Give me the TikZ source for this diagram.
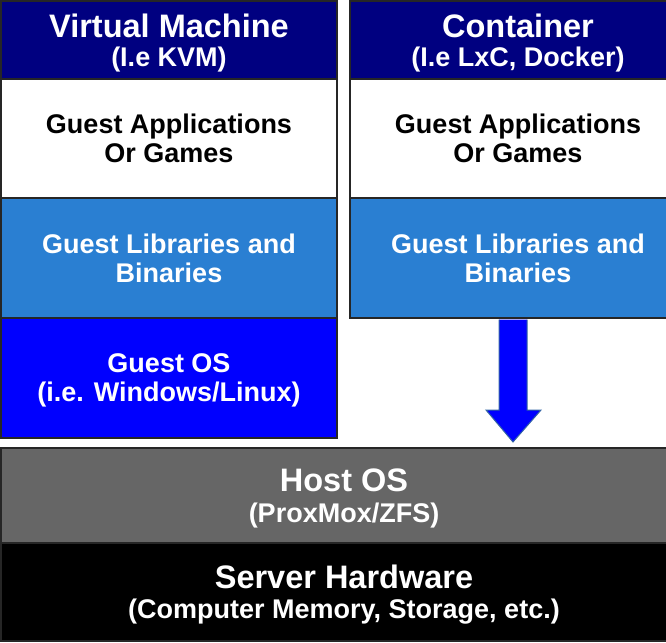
\documentclass[tikz,border=0pt]{standalone}
\usepackage{fontspec}
\setmainfont{Liberation Sans}
\usetikzlibrary{positioning}
\definecolor{headblue}{HTML}{000080}
\definecolor{libblue}{HTML}{2A7FD2}
\definecolor{osblue}{HTML}{0000FF}
\definecolor{hostgray}{HTML}{666666}
\definecolor{arrowedge}{HTML}{3465A4}
\newcommand{\bigline}{\fontsize{32.5}{32.5}\selectfont}
\tikzset{
	layer/.style args={#1:#2:#3}{
		draw=black!85, line width=1.5pt, fill=#1, text=#2,
		minimum height=#3, inner sep=0pt, outer sep=0pt, align=center,
		font=\bfseries\fontsize{27}{29}\selectfont
	},
	vmcol/.style={minimum width=336pt},
	ctcol/.style={minimum width=336pt},
	basecol/.style={minimum width=686pt},
	nudge/.style={text depth=#1}
}

\begin{document}
\begin{tikzpicture}[x=1pt,y=-1pt]
		\useasboundingbox (0,0) rectangle (666,642);
		% left stack: virtual machine
		\node[layer=headblue:white:78pt, vmcol, nudge=-5pt, anchor=north west] (vmhead) at (1,1)
			{{\bigline Virtual Machine}\\[0pt](I.e KVM)};
		\node[layer=white:black:119pt, vmcol, below=0pt of vmhead] (vmapps)
			{Guest Applications\\Or Games};
		\node[layer=libblue:white:120pt, vmcol, below=0pt of vmapps] (vmlib)
			{Guest Libraries and\\Binaries};
		\node[layer=osblue:white:120pt, vmcol, nudge=-3pt, below=0pt of vmlib] (vmos)
			{Guest OS\\(i.e. Windows/Linux)};

		% right stack: container (runs off the right edge)
		\node[layer=headblue:white:78pt, ctcol, nudge=-5pt, anchor=north west] (cthead) at (350,1)
			{{\bigline Container}\\[0pt](I.e LxC, Docker)};
		\node[layer=white:black:119pt, ctcol, below=0pt of cthead] (ctapps)
			{Guest Applications\\Or Games};
		\node[layer=libblue:white:120pt, ctcol, below=0pt of ctapps] (ctlib)
			{Guest Libraries and\\Binaries};

		% shared base
		\node[layer=hostgray:white:95pt, basecol, nudge=-9pt, anchor=north west] (host) at (1,448)
			{{\bigline Host OS}\\[2pt](ProxMox/ZFS)};
		\node[layer=black:white:98pt, basecol, nudge=-5pt, below=0pt of host] (hw)
			{{\bigline Server Hardware}\\[1pt](Computer Memory, Storage, etc.)};

		% block arrow down to host
		\draw[fill=osblue, draw=arrowedge, line width=1pt]
			(499,319.5) -- (499,410) -- (486,410) -- (513,442) -- (541,410) -- (527,410) -- (527,319.5);
\end{tikzpicture}
\end{document}
